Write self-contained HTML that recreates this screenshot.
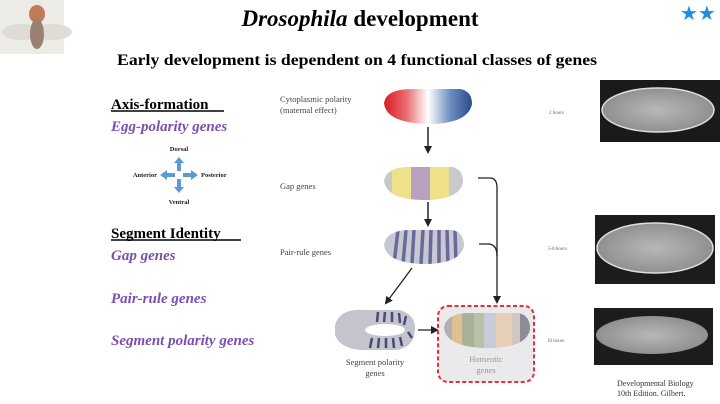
<!DOCTYPE html>
<html><head><meta charset="utf-8"><style>
html,body{margin:0;padding:0;background:#fff;}
body{width:720px;height:404px;overflow:hidden;position:relative;}
svg{position:absolute;left:0;top:0;}
</style></head><body>
<svg width="720" height="404" viewBox="0 0 720 404" xmlns="http://www.w3.org/2000/svg">
<defs>
<linearGradient id="pol" x1="0" x2="1" y1="0" y2="0">
<stop offset="0" stop-color="#d81c24"/><stop offset="0.25" stop-color="#e86a70"/>
<stop offset="0.5" stop-color="#ffffff"/><stop offset="0.75" stop-color="#6f8fc0"/><stop offset="1" stop-color="#2a4a8a"/></linearGradient>
<radialGradient id="photo" cx="0.5" cy="0.5" r="0.6"><stop offset="0" stop-color="#b8b8b8"/><stop offset="1" stop-color="#888"/></radialGradient>
<marker id="ah" markerWidth="8" markerHeight="8" refX="6" refY="4" orient="auto" markerUnits="userSpaceOnUse"><path d="M0,0 L8,4 L0,8 Z" fill="#222"/></marker>
<clipPath id="e2"><path d="M384,181 Q386,167 410,167 L452,167 Q463,169 463,182 Q460,200 423,200 Q386,199 384,181 Z"/></clipPath>
<clipPath id="e3"><path d="M384,245 Q386,230 410,230 L452,230 Q464,232 464,246 Q460,264 424,264 Q386,263 384,245 Z"/></clipPath>
<clipPath id="e4"><path d="M444,328 Q446,313 470,313 L518,313 Q530,315 530,329 Q527,348 487,348 Q446,347 444,328 Z"/></clipPath>
</defs>

<rect x="0" y="0" width="64" height="54" fill="#ecebe6"/>
<ellipse cx="22" cy="32" rx="20" ry="8" fill="#dedcd5"/>
<ellipse cx="52" cy="32" rx="20" ry="8" fill="#dedcd5"/>
<ellipse cx="37" cy="14" rx="8" ry="9" fill="#c07b58"/>
<ellipse cx="37" cy="34" rx="7" ry="15" fill="#9a8070"/>

<text x="680" y="20" font-family="DejaVu Sans" font-size="20" fill="#1e8fe0">★★</text>

<text x="360" y="26" text-anchor="middle" font-family="Liberation Serif" font-weight="bold" font-size="23"><tspan font-style="italic">Drosophila</tspan> development</text>
<text x="357" y="65" text-anchor="middle" font-family="Liberation Serif" font-weight="bold" font-size="16" textLength="480" lengthAdjust="spacingAndGlyphs">Early development is dependent on 4 functional classes of genes</text>

<g font-family="Liberation Serif" font-weight="bold" font-size="15">
<text x="111" y="109">Axis-formation</text>
<text x="111" y="238">Segment Identity</text>
</g>
<line x1="111" y1="111" x2="224" y2="111" stroke="#000" stroke-width="1.5"/>
<line x1="111" y1="240" x2="241" y2="240" stroke="#000" stroke-width="1.5"/>
<g font-family="Liberation Serif" font-weight="bold" font-style="italic" font-size="15" fill="#7a4fb0">
<text x="111" y="131">Egg-polarity genes</text>
<text x="111" y="260">Gap genes</text>
<text x="111" y="303">Pair-rule genes</text>
<text x="111" y="345">Segment polarity genes</text>
</g>
<g font-family="Liberation Serif" font-weight="bold" font-size="6.5" fill="#222">
<text x="179" y="151" text-anchor="middle">Dorsal</text>
<text x="179" y="204" text-anchor="middle">Ventral</text>
<text x="157" y="177" text-anchor="end">Anterior</text>
<text x="201" y="177">Posterior</text>
</g>
<g fill="#5b9bd5">
<path d="M177,171 L177,163 L174,163 L179,157 L184,163 L181,163 L181,171 Z"/>
<path d="M177,179 L177,187 L174,187 L179,193 L184,187 L181,187 L181,179 Z"/>
<path d="M175,173 L167,173 L167,170 L160,175 L167,180 L167,177 L175,177 Z"/>
<path d="M183,173 L191,173 L191,170 L198,175 L191,180 L191,177 L183,177 Z"/>
</g>

<g font-family="Liberation Serif" font-size="8.5" fill="#444">
<text x="280" y="102">Cytoplasmic polarity</text>
<text x="280" y="113">(maternal effect)</text>
<text x="280" y="189">Gap genes</text>
<text x="280" y="255">Pair-rule genes</text>
<text x="375" y="365" text-anchor="middle">Segment polarity</text>
<text x="375" y="376" text-anchor="middle">genes</text>
</g>

<path d="M384,103 Q386,89 412,89 L460,89 Q472,91 472,104 Q468,124 428,124 Q386,123 384,103 Z" fill="url(#pol)"/>
<line x1="428" y1="127" x2="428" y2="152" stroke="#222" stroke-width="1.5" marker-end="url(#ah)"/>

<g clip-path="url(#e2)">
<rect x="380" y="165" width="90" height="40" fill="#c9c9cc"/>
<rect x="392" y="165" width="19" height="40" fill="#efe08a"/>
<rect x="411" y="165" width="19" height="40" fill="#b7a0c0"/>
<rect x="430" y="165" width="19" height="40" fill="#efe08a"/>
</g>
<line x1="428" y1="202" x2="428" y2="225" stroke="#222" stroke-width="1.5" marker-end="url(#ah)"/>

<g clip-path="url(#e3)">
<rect x="380" y="228" width="90" height="40" fill="#c8c8d2"/>
<g stroke="#6a6a9a" stroke-width="3.5">
<line x1="398" y1="230" x2="394" y2="264"/><line x1="406" y1="230" x2="403" y2="264"/>
<line x1="414" y1="230" x2="412" y2="264"/><line x1="423" y1="230" x2="421" y2="264"/>
<line x1="431" y1="230" x2="430" y2="264"/><line x1="439" y1="230" x2="439" y2="264"/>
<line x1="447" y1="230" x2="448" y2="264"/><line x1="455" y1="230" x2="456" y2="264"/>
</g></g>

<path d="M478,178 L490,178 Q497,178 497,188 L497,302" fill="none" stroke="#222" stroke-width="1.3" marker-end="url(#ah)"/>
<path d="M479,244 L488,244 Q497,244 497,256" fill="none" stroke="#222" stroke-width="1.3"/>
<line x1="412" y1="268" x2="386" y2="303" stroke="#222" stroke-width="1.3" marker-end="url(#ah)"/>

<path d="M335,325 Q340,308 365,310 L400,310 Q416,315 415,330 Q414,348 395,350 L360,350 Q340,348 335,335 Z" fill="#c4c4cc"/>
<ellipse cx="385" cy="330" rx="20" ry="6" fill="#fff"/>
<g stroke="#4a4a7a" stroke-width="2.5">
<line x1="378" y1="312" x2="377" y2="322"/><line x1="385" y1="312" x2="384" y2="322"/><line x1="392" y1="312" x2="392" y2="322"/><line x1="399" y1="313" x2="400" y2="323"/><line x1="406" y1="316" x2="404" y2="325"/>
<line x1="372" y1="338" x2="370" y2="348"/><line x1="379" y1="338" x2="378" y2="348"/><line x1="386" y1="338" x2="386" y2="348"/><line x1="393" y1="338" x2="394" y2="348"/><line x1="400" y1="337" x2="402" y2="346"/><line x1="408" y1="332" x2="412" y2="338"/>
</g>
<line x1="418" y1="330" x2="437" y2="330" stroke="#222" stroke-width="1.3" marker-end="url(#ah)"/>

<rect x="438" y="306" width="96" height="76" rx="10" fill="#eaeaec" stroke="#e0303c" stroke-width="2" stroke-dasharray="4,2.5"/>
<g clip-path="url(#e4)">
<rect x="440" y="310" width="95" height="42" fill="#b0b0b0"/>
<rect x="452" y="310" width="10" height="42" fill="#e0c090"/>
<rect x="462" y="310" width="12" height="42" fill="#a8b098"/>
<rect x="474" y="310" width="10" height="42" fill="#b8c0a8"/>
<rect x="484" y="310" width="12" height="42" fill="#c8ccd8"/>
<rect x="496" y="310" width="16" height="42" fill="#e8d0b8"/>
<rect x="512" y="310" width="8" height="42" fill="#d0c8c0"/>
<rect x="520" y="310" width="12" height="42" fill="#8c8c98"/>
</g>
<g font-family="Liberation Serif" font-size="8.5" fill="#999">
<text x="486" y="362" text-anchor="middle">Homeotic</text>
<text x="486" y="373" text-anchor="middle">genes</text>
</g>

<g font-family="Liberation Serif" font-size="5" fill="#666">
<text x="549" y="114">2 hours</text>
<text x="548" y="250">5-8 hours</text>
<text x="547" y="342">10 hours</text>
</g>
<rect x="600" y="80" width="120" height="62" fill="#1a1a1a"/>
<ellipse cx="658" cy="110" rx="56" ry="22" fill="url(#photo)" stroke="#ddd" stroke-width="1.5"/>
<rect x="595" y="215" width="120" height="69" fill="#1c1c1c"/>
<ellipse cx="655" cy="248" rx="58" ry="25" fill="url(#photo)" stroke="#ddd" stroke-width="1.5"/>
<rect x="594" y="308" width="119" height="57" fill="#1c1c1c"/>
<ellipse cx="652" cy="335" rx="56" ry="19" fill="url(#photo)"/>
<g font-family="Liberation Serif" font-size="8" fill="#333">
<text x="617" y="386">Developmental Biology</text>
<text x="617" y="396">10th Edition. Gilbert.</text>
</g>
</svg>
</body></html>
